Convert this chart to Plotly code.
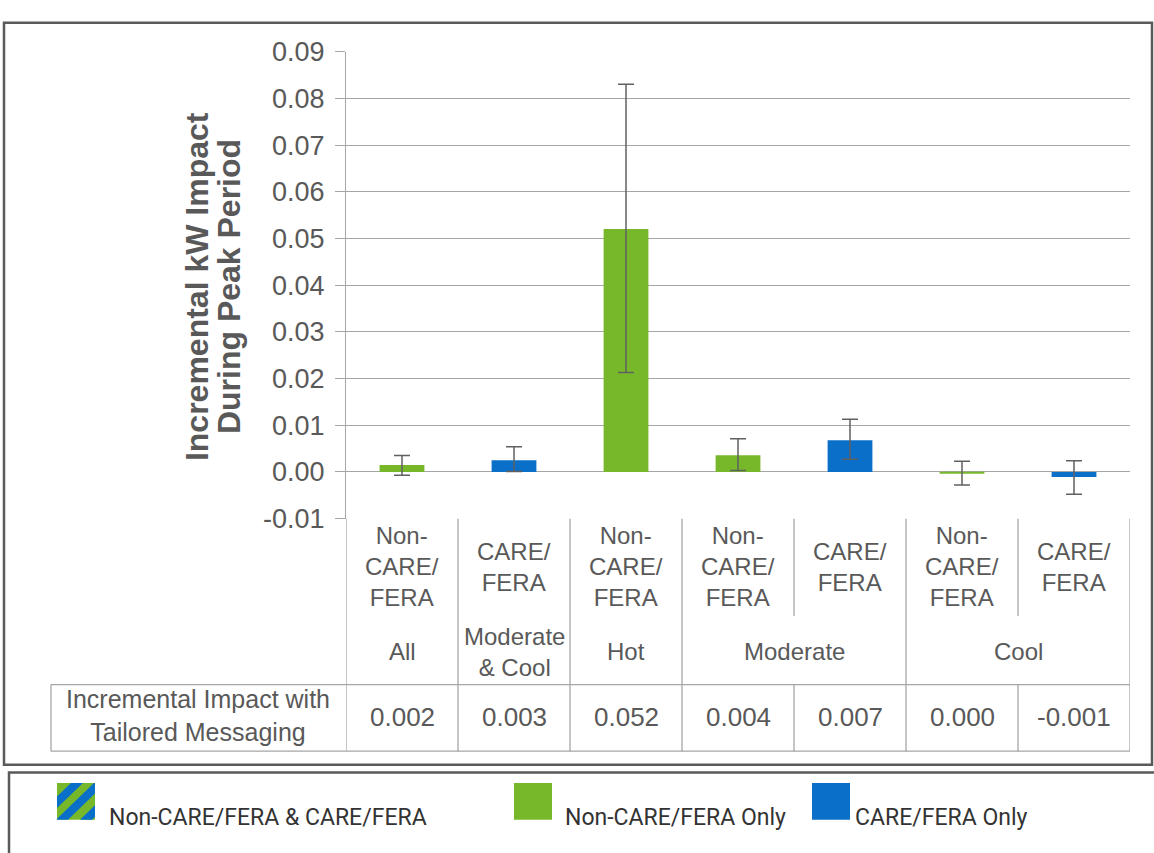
import plotly.graph_objects as go


W, H = 1154, 853
GREEN = "#77B82A"
BLUE = "#0A6FC8"
GRID = "#A6A6A6"
TEXT = "#595959"
BORDER = "#5A5A5A"
FONT = "Liberation Sans, Arial, sans-serif"
LEGEND_FONT = "Roboto, Liberation Sans, sans-serif"

# chart data
sub_labels = [
    "Non-<br>CARE/<br>FERA", "CARE/<br>FERA", "Non-<br>CARE/<br>FERA",
    "Non-<br>CARE/<br>FERA", "CARE/<br>FERA", "Non-<br>CARE/<br>FERA", "CARE/<br>FERA",
]
group_labels = ["All", "Moderate<br>& Cool", "Hot", "Moderate", "Cool"]
group_sizes = [1, 1, 1, 2, 2]
segments = ["Non-CARE/FERA", "CARE/FERA", "Non-CARE/FERA", "Non-CARE/FERA", "CARE/FERA", "Non-CARE/FERA", "CARE/FERA"]
impact = [0.0015, 0.0025, 0.052, 0.0036, 0.0068, -0.0002, -0.0011]
ci_high = [0.0035, 0.0054, 0.083, 0.0071, 0.0113, 0.0023, 0.0024]
ci_low = [-0.0007, 0.0001, 0.0213, 0.0003, 0.0027, -0.0028, -0.0048]
impact_labels = ["0.002", "0.003", "0.052", "0.004", "0.007", "0.000", "-0.001"]
y_ticks = [-0.01, 0.0, 0.01, 0.02, 0.03, 0.04, 0.05, 0.06, 0.07, 0.08, 0.09]
row_title = "Incremental Impact with<br>Tailored Messaging"
y_title = ["Incremental kW Impact", "During Peak Period"]
legend_labels = ["Non-CARE/FERA & CARE/FERA", "Non-CARE/FERA Only", "CARE/FERA Only"]


def fx(px):
    return px / W


def fy(py):
    return 1 - py / H


def label(fig, text, x, y_mid, size, xref="x", color=TEXT, family=FONT, xanchor="center"):
    fig.add_annotation(
        x=x, y=fy(y_mid), xref=xref, yref="paper", text=text, showarrow=False,
        xanchor=xanchor, yanchor="middle", font={"size": size, "color": color, "family": family},
    )


def line(fig, x0, y0, x1, y1, xref="x", color=GRID, width=1.3):
    fig.add_shape(
        type="line", xref=xref, yref="paper", x0=x0, x1=x1, y0=fy(y0), y1=fy(y1),
        line={"color": color, "width": width}, layer="below",
    )


def clip(poly, keep):
    out = []
    for i, p in enumerate(poly):
        q = poly[i - 1]
        if keep(p):
            if not keep(q):
                out.append(cross(q, p, keep))
            out.append(p)
        elif keep(q):
            out.append(cross(q, p, keep))
    return out


def cross(a, b, keep):
    lo, hi = 0.0, 1.0
    for _ in range(40):
        mid = (lo + hi) / 2
        m = (a[0] + (b[0] - a[0]) * mid, a[1] + (b[1] - a[1]) * mid)
        if keep(m) == keep(a):
            lo = mid
        else:
            hi = mid
    return (a[0] + (b[0] - a[0]) * lo, a[1] + (b[1] - a[1]) * lo)


def hatched_swatch(fig, x0, y0, s, centers, half):
    fig.add_shape(type="rect", xref="paper", yref="paper", x0=fx(x0), x1=fx(x0 + s), y0=fy(y0 + s), y1=fy(y0),
                  fillcolor=GREEN, line={"width": 0})
    square = [(0, 0), (s, 0), (s, s), (0, s)]
    for c in centers:
        poly = clip(square, lambda p, c=c: p[0] + p[1] >= c - half)
        poly = clip(poly, lambda p, c=c: p[0] + p[1] <= c + half)
        if len(poly) < 3:
            continue
        path = "M " + " L ".join(f"{fx(x0 + u):.5f},{fy(y0 + v):.5f}" for u, v in poly) + " Z"
        fig.add_shape(type="path", xref="paper", yref="paper", path=path, fillcolor=BLUE, line={"width": 0})


colors = [GREEN if s == "Non-CARE/FERA" else BLUE for s in segments]
x_pos = list(range(len(impact)))

fig = go.Figure()
fig.add_trace(
    go.Bar(
        x=x_pos,
        y=impact,
        width=0.4,
        marker={"color": colors, "line": {"width": 0}},
        error_y={
            "type": "data",
            "array": [h - v for h, v in zip(ci_high, impact)],
            "arrayminus": [v - l for v, l in zip(impact, ci_low)],
            "color": "#606060",
            "thickness": 1.5,
            "width": 8,
        },
        showlegend=False,
    )
)

fig.update_layout(
    width=W,
    height=H,
    margin={"l": 0, "r": 0, "t": 0, "b": 0},
    paper_bgcolor="white",
    plot_bgcolor="white",
    font={"family": FONT, "color": TEXT},
    xaxis={"domain": [fx(346), fx(1130)], "range": [-0.5, 6.5], "visible": False},
    yaxis={
        "domain": [fy(522), fy(38)],
        "range": [-0.01, 0.09],
        "tickvals": y_ticks,
        "ticktext": [f"{v:.2f}" for v in y_ticks],
        "showgrid": True,
        "gridcolor": GRID,
        "gridwidth": 1.3,
        "zeroline": False,
        "showline": True,
        "linecolor": GRID,
        "linewidth": 1.3,
        "ticks": "outside",
        "ticklen": 10,
        "tickcolor": GRID,
        "tickwidth": 1.3,
        "ticklabelstandoff": 5,
        "tickfont": {"size": 27, "color": TEXT},
    },
)

# category table below the plot
n = len(impact)
edges = [i - 0.5 for i in range(n + 1)]
start = 0
group_edges = [edges[0]]
for g, size in zip(group_labels, group_sizes):
    label(fig, g, start + (size - 1) / 2, 660, 24)
    start += size
    group_edges.append(start - 0.5)
for e in edges:
    bottom = 694 if e in group_edges else 623
    line(fig, e, 522, e, bottom)
for i, lab in enumerate(sub_labels):
    label(fig, lab, i, 572, 24)

# data table row
line(fig, fx(51), 694, fx(1130), 694, xref="paper")
line(fig, fx(51), 763, fx(1130), 763, xref="paper")
line(fig, fx(51), 694, fx(51), 763, xref="paper")
for e in edges:
    line(fig, e, 694, e, 763)
for i, lab in enumerate(impact_labels):
    label(fig, lab, i, 728, 26)
label(fig, row_title, fx(198), 726, 25, xref="paper")

# y-axis title, one rotated annotation per line
for txt, xp in zip(y_title, [197, 229]):
    fig.add_annotation(
        x=fx(xp), y=fy(282), xref="paper", yref="paper", text=txt, textangle=-90,
        showarrow=False, xanchor="center", yanchor="middle",
        font={"size": 32, "color": TEXT, "family": FONT, "weight": "bold"},
    )

# frames
fig.add_shape(type="rect", xref="paper", yref="paper", x0=fx(4), x1=fx(1152), y0=fy(777), y1=fy(8),
              line={"color": BORDER, "width": 2.5})
fig.add_shape(type="rect", xref="paper", yref="paper", x0=fx(9), x1=fx(1160), y0=fy(870), y1=fy(785),
              line={"color": BORDER, "width": 2.5})

# legend swatches and labels
hatched_swatch(fig, 57, 796, 38, [20, 43, 67], 6)
for x0, c in [(514, GREEN), (812, BLUE)]:
    fig.add_shape(type="rect", xref="paper", yref="paper", x0=fx(x0), x1=fx(x0 + 38), y0=fy(834), y1=fy(796),
                  fillcolor=c, line={"width": 0})
for txt, xp in zip(legend_labels, [107, 563, 853]):
    label(fig, txt, fx(xp), 832, 23, xref="paper", color="#333333", family=LEGEND_FONT, xanchor="left")

fig.write_html("out.html", config={"displayModeBar": False}, post_script="document.body.style.margin='0';")
